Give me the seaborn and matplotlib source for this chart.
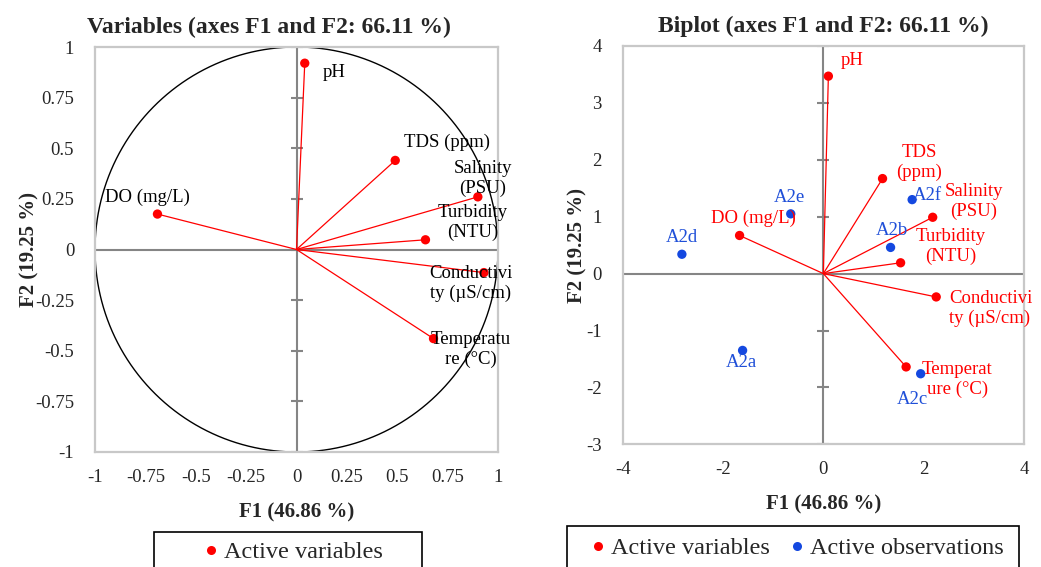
import numpy as np
import pandas as pd
import matplotlib
matplotlib.use("Agg")
import matplotlib.pyplot as plt
import seaborn as sns
from matplotlib.lines import Line2D
from matplotlib.patches import Rectangle

# ---------------- data ----------------
var_names = ["pH", "TDS (ppm)", "Salinity (PSU)", "Turbidity (NTU)",
             "DO (mg/L)", "Conductivity (µS/cm)", "Temperature (°C)"]
var_labels_left = ["pH", "TDS (ppm)", "Salinity\n(PSU)", "Turbidity\n(NTU)",
                   "DO (mg/L)", "Conductivi\nty (µS/cm)", "Temperatu\nre (°C)"]
var_labels_right = ["pH", "TDS\n(ppm)", "Salinity\n(PSU)", "Turbidity\n(NTU)",
                    "DO (mg/L)", "Conductivi\nty (µS/cm)", "Temperat\nure (°C)"]
corr_f1 = [0.041, 0.49, 0.90, 0.64, -0.69, 0.93, 0.68]
corr_f2 = [0.92, 0.44, 0.26, 0.048, 0.175, -0.114, -0.44]

bi_var_f1 = [0.10, 1.18, 2.18, 1.54, -1.67, 2.25, 1.65]
bi_var_f2 = [3.47, 1.67, 0.99, 0.19, 0.67, -0.41, -1.64]

obs_names = ["A2a", "A2b", "A2c", "A2d", "A2e", "A2f"]
obs_f1 = [-1.61, 1.34, 1.94, -2.82, -0.65, 1.77]
obs_f2 = [-1.35, 0.46, -1.76, 0.34, 1.05, 1.30]

left_ticks = [-1, -0.75, -0.5, -0.25, 0, 0.25, 0.5, 0.75, 1]
left_ticklabels = ["-1", "-0.75", "-0.5", "-0.25", "0", "0.25", "0.5", "0.75", "1"]
right_xticks = [-4, -2, 0, 2, 4]
right_yticks = [-3, -2, -1, 0, 1, 2, 3, 4]

title_left = "Variables (axes F1 and F2: 66.11 %)"
title_right = "Biplot (axes F1 and F2: 66.11 %)"
xlab = "F1 (46.86 %)"
ylab = "F2 (19.25 %)"
legend_var = "Active variables"
legend_obs = "Active observations"

# ---------------- style ----------------
sns.set_style("white")
plt.rcParams['font.family'] = ['Liberation Serif', 'DejaVu Serif']
plt.rcParams['axes.unicode_minus'] = False

RED = "#FF0000"
BLUE = "#1448E0"
BLUE_T = "#1F4FD8"
FRAME = "#C8C8C8"
ZERO = "#858585"
LBL = 13.5

W, H = 1041, 567
fig = plt.figure(figsize=(W/100, H/100), dpi=100)
axL = fig.add_axes([95/W, 1-452/H, (498-95)/W, (452-47)/H])
axR = fig.add_axes([622.7/W, 1-444.3/H, (1024-622.7)/W, (444.3-46)/H])

def style_axes(ax, ypad, xlpad, ylpad):
    for s in ax.spines.values():
        s.set_color(FRAME)
        s.set_linewidth(1.6)
    ax.tick_params(axis="x", length=0, labelsize=13.5, pad=12)
    ax.tick_params(axis="y", length=0, labelsize=13.5, pad=ypad)
    ax.set_xlabel(xlab, fontsize=15, fontweight="bold", labelpad=xlpad)
    ax.set_ylabel(ylab, fontsize=15, fontweight="bold", labelpad=ylpad)

# ---------------- left: correlation circle ----------------
axL.set_xlim(-1, 1)
axL.set_ylim(-1, 1)
axL.set_xticks(left_ticks)
axL.set_xticklabels(left_ticklabels)
axL.set_yticks(left_ticks)
axL.set_yticklabels(left_ticklabels)
axL.axhline(0, color=ZERO, lw=1.5, zorder=1)
axL.axvline(0, color=ZERO, lw=1.5, zorder=1)
axL.plot([0]*len(left_ticks), left_ticks, ls="none", marker="_", ms=8,
         mew=1.5, color=ZERO, zorder=1)
th = np.linspace(0, 2*np.pi, 400)
axL.plot(np.cos(th), np.sin(th), color="black", lw=1.0, zorder=2)
for x, y in zip(corr_f1, corr_f2):
    axL.plot([0, x], [0, y], color=RED, lw=0.9, zorder=3)
dfL = pd.DataFrame({"F1": corr_f1, "F2": corr_f2})
sns.scatterplot(data=dfL, x="F1", y="F2", ax=axL, color=RED, s=45,
                edgecolor="none", zorder=4, legend=False)
offL = [(18, -9, "left"), (52, 18, "center"), (5, 18, "center"),
        (47, 17, "center"), (-10, 17, "center"), (-13, -11, "center"),
        (37, -11, "center")]
for (x, y), lab, (dx, dy, ha) in zip(zip(corr_f1, corr_f2), var_labels_left, offL):
    axL.annotate(lab, (x, y), xytext=(dx, dy), textcoords="offset pixels",
                 ha=ha, va="center", fontsize=LBL, color="black",
                 linespacing=1.2, zorder=5)
style_axes(axL, ypad=15, xlpad=12, ylpad=-3)
axL.set_title(title_left, fontsize=17, fontweight="bold", pad=10,
              x=(269-95)/403)

# ---------------- right: biplot ----------------
axR.set_xlim(-4, 4)
axR.set_ylim(-3, 4)
axR.set_xticks(right_xticks)
axR.set_yticks(right_yticks)
axR.axhline(0, color=ZERO, lw=1.5, zorder=1)
axR.axvline(0, color=ZERO, lw=1.5, zorder=1)
axR.plot([0]*len(right_yticks), right_yticks, ls="none", marker="_", ms=8,
         mew=1.5, color=ZERO, zorder=1)
for x, y in zip(bi_var_f1, bi_var_f2):
    axR.plot([0, x], [0, y], color=RED, lw=0.9, zorder=3)
dfV = pd.DataFrame({"F1": bi_var_f1, "F2": bi_var_f2})
dfO = pd.DataFrame({"F1": obs_f1, "F2": obs_f2})
sns.scatterplot(data=dfV, x="F1", y="F2", ax=axR, color=RED, s=45,
                edgecolor="none", zorder=4, legend=False)
sns.scatterplot(data=dfO, x="F1", y="F2", ax=axR, color=BLUE, s=45,
                edgecolor="none", zorder=4, legend=False)
offV = [(12, 16, "left"), (37, 16, "center"), (41, 16, "center"),
        (50, 16, "center"), (14, 17, "center"), (13, -12, "left"),
        (51, -13, "center")]
for (x, y), lab, (dx, dy, ha) in zip(zip(bi_var_f1, bi_var_f2), var_labels_right, offV):
    axR.annotate(lab, (x, y), xytext=(dx, dy), textcoords="offset pixels",
                 ha=ha, va="center", fontsize=LBL, color=RED,
                 linespacing=1.2, zorder=5)
offO = [(-1, -12), (1, 17), (-8, -26), (0, 17), (-1, 16), (15, 4)]
for (x, y), lab, (dx, dy) in zip(zip(obs_f1, obs_f2), obs_names, offO):
    axR.annotate(lab, (x, y), xytext=(dx, dy), textcoords="offset pixels",
                 ha="center", va="center", fontsize=LBL, color=BLUE_T, zorder=5)
style_axes(axR, ypad=15, xlpad=12, ylpad=-1)
axR.set_title(title_right, fontsize=17, fontweight="bold", pad=10)

# ---------------- legends ----------------
h_var = Line2D([], [], ls="none", marker="o", ms=6.5, color=RED, mec="none")
h_obs = Line2D([], [], ls="none", marker="o", ms=6.5, color=BLUE, mec="none")
legkw = dict(frameon=False, fontsize=17.5, handletextpad=0.15,
             handlelength=0.8, borderpad=0.0, columnspacing=0.7)
fig.legend([h_var], [legend_var], loc="center",
           bbox_to_anchor=(292/W, 1-552/H), ncol=1, **legkw)
fig.legend([h_var, h_obs], [legend_var, legend_obs],
           loc="center", bbox_to_anchor=(796/W, 1-548/H), ncol=2, **legkw)
fig.patches.append(Rectangle((154/W, -0.05), (422-154)/W, 0.05 + (H-532)/H,
                             transform=fig.transFigure, fill=False,
                             edgecolor="black", lw=1.2))
fig.patches.append(Rectangle((567/W, -0.05), (1019-567)/W, 0.05 + (H-526)/H,
                             transform=fig.transFigure, fill=False,
                             edgecolor="black", lw=1.2))

fig.savefig("out.png", dpi=100)
